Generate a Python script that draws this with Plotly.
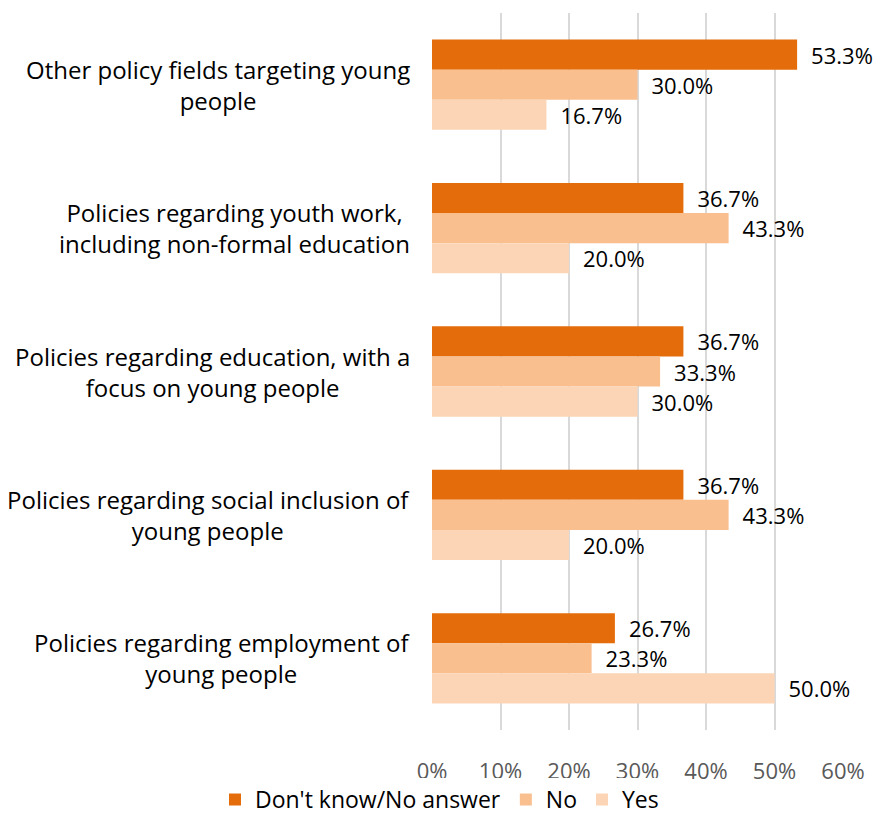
import plotly.graph_objects as go

categories = [
    "Other policy fields targeting young<br>people",
    "Policies regarding youth work,<br>including non-formal education",
    "Policies regarding education, with a<br>focus on young people",
    "Policies regarding social inclusion of<br>young people",
    "Policies regarding employment of<br>young people",
]
series_names = ["Don't know/No answer", "No", "Yes"]
dont_know = [0.533, 0.367, 0.367, 0.367, 0.267]
no_vals = [0.300, 0.433, 0.333, 0.433, 0.233]
yes_vals = [0.167, 0.200, 0.300, 0.200, 0.500]
colors = ["#E46C0A", "#F9BF8F", "#FBD5B5"]
tick_vals = [0, 0.1, 0.2, 0.3, 0.4, 0.5, 0.6]

FONT = "Open Sans"

fig = go.Figure()
for name, vals, col in zip(series_names, [dont_know, no_vals, yes_vals], colors):
    fig.add_trace(go.Bar(
        name=name, y=categories, x=vals, orientation="h",
        marker=dict(color=col, line=dict(width=0)),
        text=vals, texttemplate="\u2002%{x:.1%}", textposition="outside",
        textfont=dict(family=FONT, size=22, color="#000000"),
        cliponaxis=False,
    ))

for c in categories:
    fig.add_annotation(
        x=0, xref="paper", y=c, yref="y", text=c, showarrow=False,
        xanchor="right", align="center", xshift=-20,
        font=dict(family=FONT, size=24, color="#000000"),
    )

fig.update_layout(
    width=873, height=821,
    margin=dict(l=424, r=38, t=5, b=99),
    barmode="group", bargap=0.37, bargroupgap=0,
    plot_bgcolor="white", paper_bgcolor="white",
    font=dict(family=FONT, size=20, color="#000000"),
    showlegend=True,
    legend=dict(orientation="h", x=-0.528, xanchor="left",
                y=-0.127, yanchor="bottom", traceorder="normal",
                font=dict(family=FONT, size=23, color="#000000"),
                itemwidth=30),
)
fig.update_xaxes(range=[0, 0.6], tickvals=tick_vals, tickformat=".0%",
                 showgrid=True, gridcolor="#D9D9D9", gridwidth=2,
                 zeroline=False, showline=False, ticks="",
                 tickfont=dict(family=FONT, size=22, color="#595959"),
                 ticklabelstandoff=26)
fig.update_yaxes(autorange="reversed", showticklabels=False, showgrid=False,
                 zeroline=False, showline=False, ticks="")
fig.write_html("out.html")
